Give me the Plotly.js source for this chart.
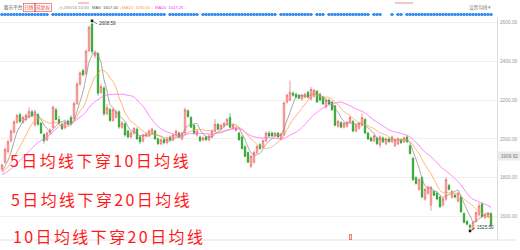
<!DOCTYPE html>
<html>
<head>
<meta charset="utf-8">
<script src="https://cdn.plot.ly/plotly-3.0.1.min.js"></script>
<style>
  html, body { margin: 0; padding: 0; background: #fff; }
  #chart { width: 520px; height: 250px; }
</style>
</head>
<body>
<div id="chart"></div>
<script>
// Daily closes before the first visible bar (feed the moving averages only)
const earlierCloses = [1795, 1790, 1800, 1810, 1805, 1815, 1820, 1812, 1800, 1806,
                       1815, 1826, 1820, 1832, 1826, 1815, 1822, 1830, 1826];

// Daily OHLC, oldest first
const opens = [
  1845, 1880, 1935, 1990, 2035, 2085, 2125, 2085, 2100, 2112,
  2140, 2072, 2125, 2080, 2022, 1995, 2030, 2060, 2150, 2100,
  2075, 2058, 2092, 2110, 2105, 2182, 2282, 2352, 2335, 2455,
  2592, 2428, 2440, 2240, 2262, 2130, 2152, 2095, 2112, 2140,
  2060, 2078, 2040, 2010, 2030, 2050, 2010, 1990, 2015, 2020,
  2030, 2040, 2000, 1975, 1995, 1980, 2010, 1995, 2020, 2030,
  2000, 2030, 2145, 2110, 2070, 2020, 2010, 1995, 2010, 1995,
  2010, 2040, 2075, 2050, 2065, 2075, 2110, 2055, 2045, 2030,
  2010, 1960, 1930, 1860, 1880, 1930, 1970, 1960, 1990, 2030,
  2030, 2015, 2030, 2000, 2020, 2190, 2200, 2235, 2230, 2225,
  2205, 2215, 2240, 2205, 2220, 2245, 2230, 2215, 2165, 2200,
  2190, 2170, 2065, 2085, 2060, 2065, 2085, 2090, 2040, 2055,
  2070, 2100, 2030, 2005, 1990, 2005, 1970, 2005, 1975, 2000,
  1985, 1965, 1975, 1995, 1985, 2010, 1965, 1900, 1800, 1740,
  1800, 1690, 1720, 1660, 1730, 1720, 1700, 1660, 1690, 1760,
  1700, 1710, 1680, 1700, 1615, 1575, 1555, 1535, 1575, 1610,
  1665, 1595, 1600, 1615
];
const highs = [
  1872, 1955, 1995, 2048, 2095, 2128, 2135, 2118, 2130, 2162,
  2150, 2150, 2132, 2088, 2030, 2038, 2055, 2172, 2160, 2118,
  2085, 2092, 2100, 2122, 2192, 2292, 2348, 2362, 2460, 2582,
  2608.59, 2455, 2448, 2282, 2272, 2178, 2162, 2158, 2150, 2148,
  2092, 2085, 2048, 2038, 2060, 2058, 2018, 2028, 2032, 2048,
  2058, 2048, 2008, 2002, 2002, 2008, 2018, 2028, 2048, 2038,
  2036, 2162, 2152, 2118, 2078, 2048, 2018, 2012, 2016, 2022,
  2048, 2102, 2082, 2078, 2088, 2108, 2132, 2078, 2062, 2038,
  2018, 1968, 1936, 1918, 1938, 1968, 1978, 1996, 2038, 2040,
  2038, 2036, 2036, 2032, 2192, 2232, 2300, 2245, 2238, 2232,
  2232, 2238, 2248, 2268, 2258, 2252, 2238, 2222, 2208, 2208,
  2196, 2176, 2098, 2092, 2088, 2092, 2118, 2098, 2078, 2088,
  2132, 2108, 2038, 2012, 2022, 2012, 2018, 2012, 2008, 2008,
  2018, 2002, 2008, 2002, 2012, 2018, 1972, 1906, 1808, 1798,
  1808, 1748, 1758, 1758, 1738, 1728, 1708, 1698, 1802, 1768,
  1738, 1718, 1728, 1708, 1622, 1582, 1562, 1578, 1628, 1670,
  1672, 1618, 1622, 1622
];
const lows = [
  1838, 1872, 1925, 1982, 2028, 2078, 2082, 2078, 2090, 2105,
  2112, 2065, 2068, 2025, 1975, 1988, 2022, 2052, 2095, 2072,
  2045, 2050, 2068, 2070, 2098, 2175, 2275, 2322, 2328, 2448,
  2438, 2415, 2222, 2232, 2118, 2122, 2088, 2088, 2105, 2052,
  2052, 2012, 2002, 2002, 2022, 1995, 1975, 1982, 2008, 2012,
  2022, 1995, 1968, 1968, 1972, 1972, 1988, 1988, 2012, 2002,
  1992, 2022, 2108, 2055, 2022, 2012, 1984, 1988, 1988, 1988,
  2004, 2034, 2044, 2044, 2058, 2068, 2055, 2048, 2038, 1990,
  1945, 1905, 1875, 1850, 1872, 1922, 1944, 1952, 1982, 2008,
  2010, 2008, 2004, 1994, 2014, 2182, 2194, 2218, 2208, 2204,
  2198, 2208, 2210, 2198, 2212, 2184, 2194, 2174, 2158, 2174,
  2144, 2064, 2058, 2054, 2054, 2058, 2078, 2034, 2034, 2048,
  2064, 2024, 1994, 1984, 1984, 1968, 1955, 1978, 1968, 1978,
  1978, 1958, 1968, 1974, 1978, 1978, 1918, 1784, 1764, 1732,
  1694, 1682, 1712, 1630, 1704, 1684, 1644, 1652, 1682, 1734,
  1692, 1694, 1672, 1618, 1564, 1554, 1525.5, 1528, 1568, 1602,
  1594, 1588, 1594, 1548
];
const closes = [
  1865, 1945, 1985, 2040, 2088, 2120, 2090, 2110, 2122, 2142,
  2120, 2140, 2075, 2030, 1990, 2030, 2045, 2162, 2100, 2082,
  2052, 2085, 2075, 2080, 2182, 2282, 2340, 2330, 2452, 2575,
  2450, 2442, 2235, 2270, 2130, 2160, 2095, 2150, 2140, 2062,
  2082, 2020, 2010, 2030, 2055, 2000, 1985, 2020, 2025, 2040,
  2050, 2000, 1975, 1995, 1980, 2000, 1995, 2020, 2040, 2010,
  2030, 2150, 2115, 2060, 2030, 2040, 1990, 2005, 1995, 2015,
  2040, 2075, 2050, 2070, 2080, 2100, 2060, 2070, 2055, 1995,
  1950, 1910, 1880, 1910, 1930, 1960, 1950, 1990, 2030, 2015,
  2015, 2030, 2010, 2025, 2185, 2225, 2240, 2225, 2215, 2210,
  2225, 2230, 2215, 2255, 2250, 2190, 2200, 2180, 2200, 2180,
  2150, 2070, 2090, 2060, 2080, 2085, 2110, 2040, 2070, 2080,
  2110, 2030, 2000, 1990, 2015, 1975, 2010, 1985, 2000, 1985,
  2010, 1995, 2000, 1980, 2005, 1985, 1925, 1790, 1770, 1790,
  1700, 1740, 1750, 1750, 1710, 1690, 1650, 1690, 1790, 1740,
  1730, 1700, 1720, 1625, 1570, 1560, 1545, 1570, 1620, 1655,
  1600, 1610, 1615, 1555
];

// Bars that carry a news/event flag in the strip above the chart (index runs)
const eventRuns = [[0, 15], [17, 54], [56, 65], [67, 91], [93, 103], [105, 107],
                   [109, 122], [124, 126], [130, 130], [132, 133], [135, 163]];
const flagBar = 116;

const maPeriods = [5, 10, 20];
const priceTicks = [1600, 1800, 2000, 2200, 2400, 2600];
const markPrice = 1909.92;
const stamp = '23/5/16 10:33';
const captions = ['5日均线下穿10日均线', '5日均线下穿20日均线', '10日均线下穿20日均线'];

// ---------- derived series ----------
const idx = closes.map((_, i) => i);
const allCloses = earlierCloses.concat(closes);
const lead = earlierCloses.length;
function movingAverage(p) {
  return closes.map((_, i) => {
    let s = 0;
    for (let k = lead + i - p + 1; k <= lead + i; k++) s += allCloses[k];
    return s / p;
  });
}
const ma = maPeriods.map(movingAverage);

let hiIdx = 0, loIdx = 0;
highs.forEach((v, i) => { if (v > highs[hiIdx]) hiIdx = i; });
lows.forEach((v, i) => { if (v < lows[loIdx]) loIdx = i; });

const eventIdx = [];
eventRuns.forEach(([a, b]) => { for (let i = a; i <= b; i++) eventIdx.push(i); });

// ---------- styling ----------
const W = 520, H = 250;
const plotRight = 497 / W;
const maColors = ['#8f8f8f', '#ffa04a', '#ff5cff'];
const cjk = '"Noto Sans CJK SC", "Noto Sans", sans-serif';
const num = '"Liberation Sans", Arial, sans-serif';

const traces = [
  {
    type: 'candlestick', x: idx, open: opens, high: highs, low: lows, close: closes,
    increasing: { line: { color: '#ee4a4a', width: 0.6 }, fillcolor: '#fbcdcd' },
    decreasing: { line: { color: '#1f9b1f', width: 0.6 }, fillcolor: '#27a527' },
    whiskerwidth: 0, hoverinfo: 'skip'
  }
];
ma.forEach((series, k) => traces.push({
  type: 'scatter', mode: 'lines', x: idx, y: series,
  line: { color: maColors[k], width: 0.8, shape: 'spline', smoothing: 0.5 },
  hoverinfo: 'skip'
}));
traces.push({
  type: 'scatter', mode: 'markers', x: [hiIdx, loIdx], y: [highs[hiIdx], lows[loIdx]],
  marker: { symbol: 'square', size: 2.5, color: '#111' }, hoverinfo: 'skip'
});
traces.push({
  type: 'scatter', mode: 'markers', x: eventIdx, y: eventIdx.map(() => 1), yaxis: 'y2',
  marker: { symbol: 'diamond', size: 3.4, color: '#3a8ef2' }, hoverinfo: 'skip'
});

const py = yPix => 1 - yPix / H;   // pixel row -> paper fraction
const px = xPix => xPix / W;

const last = closes.length - 1;
const fmt = v => v.toFixed(2);

// large captions; left edges (px) they are aligned to once spaced out
const captionLeft = [10, 11, 13];
const annotations = [
  { text: captions[0], x: px(102), y: py(160) },
  { text: captions[1], x: px(103), y: py(199) },
  { text: captions[2], x: px(109), y: py(236) }
].map(a => Object.assign(a, {
  xref: 'paper', yref: 'paper', xanchor: 'center', yanchor: 'middle', showarrow: false,
  font: { family: cjk, size: 16, color: '#ff1a1a' }
}));

const head = (text, x, color, extra) => Object.assign({
  text, x: px(x), y: py(7), xref: 'paper', yref: 'paper', xanchor: 'left', yanchor: 'middle',
  showarrow: false, font: { family: cjk, size: 4.6, color }
}, extra || {});
const headNum = (text, x, color) => head(text, x, color, { font: { family: num, size: 4.2, color } });

annotations.push(
  head('股市平台', 2, '#555'),
  head('日线', 23, '#e8413c', { bordercolor: '#e8413c', borderwidth: 0.6, borderpad: 0.6 }),
  head('前复权', 35, '#e8413c', { bordercolor: '#e8413c', borderwidth: 0.6, borderpad: 0.6 }),
  headNum('◷ ' + stamp, 57, '#888'),
  headNum('MA5: ' + fmt(ma[0][last]) + ' ↓', 90, '#555'),
  headNum('MA10: ' + fmt(ma[1][last]) + ' ↓', 120, '#ff9a3c'),
  headNum('MA20: ' + fmt(ma[2][last]) + ' ↓', 153, '#f040f0'),
  head('设置均线 ▾', 493, '#888', { xanchor: 'right' }),
  {
    text: fmt(highs[hiIdx]), x: hiIdx, y: highs[hiIdx], xref: 'x', yref: 'y',
    showarrow: true, arrowhead: 0, arrowwidth: 0.6, arrowcolor: '#333',
    ax: 5, ay: 3, xanchor: 'left', yanchor: 'middle',
    font: { family: num, size: 4.6, color: '#333' }
  },
  {
    text: fmt(lows[loIdx]), x: loIdx, y: lows[loIdx], xref: 'x', yref: 'y',
    showarrow: true, arrowhead: 0, arrowwidth: 0.6, arrowcolor: '#333',
    ax: 5, ay: -3, xanchor: 'left', yanchor: 'middle',
    font: { family: num, size: 4.6, color: '#333' }
  },
  {
    text: fmt(markPrice), x: plotRight, y: markPrice, xref: 'paper', yref: 'y',
    xanchor: 'left', yanchor: 'middle', showarrow: false,
    bgcolor: '#ececec', borderpad: 1.5, width: 20,
    font: { family: num, size: 4.8, color: '#777' }
  },
  {
    text: ' ', x: flagBar, y: py(240), xref: 'x', yref: 'paper', yanchor: 'bottom',
    showarrow: false, bgcolor: '#fcd2d2', bordercolor: '#e85050', borderwidth: 0.6,
    width: 1.5, height: 5, borderpad: 0, font: { size: 1 }
  }
);

const layout = {
  width: W, height: H,
  margin: { l: 0, r: 0, t: 0, b: 0 },
  paper_bgcolor: '#fff', plot_bgcolor: '#fff',
  showlegend: false, dragmode: false, hovermode: false,
  xaxis: {
    domain: [0, plotRight], range: [-0.67, 165],
    showticklabels: false, showgrid: false, zeroline: false, ticks: '',
    showline: false, rangeslider: { visible: false }, fixedrange: true
  },
  yaxis: {
    domain: [py(240), py(17)], range: [1479, 2628], side: 'right',
    tickvals: priceTicks, ticktext: priceTicks.map(fmt),
    tickfont: { family: num, size: 4.8, color: '#9a9a9a' },
    gridcolor: '#f0f0f0', gridwidth: 1, zeroline: false,
    showline: true, linecolor: '#dedede', linewidth: 1,
    ticks: '', ticklabelstandoff: 1, fixedrange: true
  },
  yaxis2: { domain: [py(16), py(13)], range: [0, 2], visible: false, anchor: 'x', fixedrange: true },
  shapes: [
    { type: 'line', xref: 'paper', yref: 'paper', x0: 0, x1: px(516), y0: py(240), y1: py(240),
      line: { color: '#e2e2e2', width: 1 } },
    { type: 'line', xref: 'paper', yref: 'paper', x0: px(78), x1: px(89), y0: py(3), y1: py(3),
      line: { color: '#e87070', width: 0.8 } },
    { type: 'line', xref: 'paper', yref: 'paper', x0: px(395), x1: px(413), y0: py(3), y1: py(3),
      line: { color: '#e87070', width: 0.8 } }
  ],
  annotations
};

Plotly.newPlot('chart', traces, layout, { displayModeBar: false, staticPlot: true }).then(gd => {
  // open up the tracking of the three captions and pin their left edges
  const groups = gd.querySelectorAll('g.annotation');
  const origin = gd.getBoundingClientRect().left;
  captionLeft.forEach((left, k) => {
    const t = groups[k] && groups[k].querySelector('text.annotation-text');
    if (!t) return;
    t.style.letterSpacing = '2.4px';
    const r = t.getBoundingClientRect();
    t.setAttribute('transform', 'translate(' + (left - (r.left - origin)) + ',0)');
  });
});
</script>
</body>
</html>
